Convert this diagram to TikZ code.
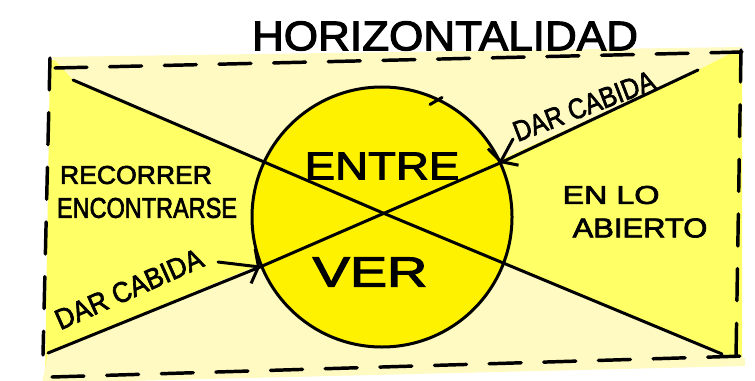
\documentclass[tikz,border=0pt]{standalone}
\usepackage{fontspec}
\setmainfont{Liberation Sans}
\newfontfamily\hand[FakeBold=2.5]{Liberation Sans}
\usetikzlibrary{arrows.meta}
\definecolor{bright}{HTML}{FFFF66}
\definecolor{pale}{HTML}{FFF9C2}
\definecolor{sun}{HTML}{FFF200}
\begin{document}
\begin{tikzpicture}[x=0.75pt,y=-0.75pt,
  ink/.style={line width=2.25pt, line cap=round, line join=round},
  border/.style={line width=2.6pt, line cap=round, dash pattern=on 24pt off 17pt},
  lbl/.style={inner sep=0pt, anchor=center, font=\hand},
  barb/.style={ink, -{Straight Barb[length=4pt,width=26pt,line width=2.25pt]}}]
\useasboundingbox (0,0) rectangle (755,381);
% corners and line ends
\coordinate (TL) at (50,60);
\coordinate (TR) at (742,50);
\coordinate (BR) at (742,357);
\coordinate (BL) at (45,378);
\coordinate (a1) at (73,80);
\coordinate (a2) at (722,354);
\coordinate (b1) at (48,353);
\coordinate (b2) at (698,70);
\coordinate (X) at (383,213);
\coordinate (p1) at (260,267);
\coordinate (p2) at (500,163);
\coordinate (q1) at (218,262);
\coordinate (q2) at (513,139);
% fills
\fill[bright] (TL) -- (TR) -- (BR) -- (BL) -- cycle;
\fill[pale] (52,57) -- (743,47) -- (b2) -- (X) -- (a1) -- cycle;
\fill[pale] (42,383) -- (b1) -- (X) -- (a2) -- (745,358) -- (745,366) -- cycle;
% circle
\node[circle, draw, line width=2.25pt, fill=sun, minimum size=195pt, inner sep=0pt] (circ) at (382,217) {};
\draw[ink] (circ.north) ++(48,19) coordinate (m1) -- ++(12,-7) coordinate (m2);
% crossing lines
\draw[ink] (a1) -- (X) -- (a2);
\draw[ink] (b1) -- (p1) -- (p2) -- (b2);
% arrows
\draw[barb] (q1) -- (p1);
\draw[barb] (q2) -- (p2);
% dashed border
\draw[border] (55,68) -- (742,52);
\draw[border] (50,58) -- (43,355);
\draw[border] (741,50) -- (736,357);
\draw[border] (52,377) -- (745,356);
% texts
\node[lbl] (title) at (445,36) {\resizebox{289.5pt}{21.75pt}{HORIZONTALIDAD}};
\node[lbl] (entre) at (382,166) {\resizebox{116pt}{20.25pt}{ENTRE}};
\node[lbl] (ver) at (370,272) {\resizebox{86pt}{21.75pt}{VER}};
\node[lbl] (rec) at (136,175) {\resizebox{114pt}{13.5pt}{RECORRER}};
\node[lbl] (enc) at (147,208) {\resizebox{135pt}{15pt}{ENCONTRARSE}};
\node[lbl] (enlo) at (611,195) {\resizebox{72.75pt}{13.5pt}{EN LO}};
\node[lbl] (abi) at (640,228) {\resizebox{101pt}{14.25pt}{ABIERTO}};
\node[lbl, rotate=24] (dc1) at (129,289) {\resizebox{119pt}{15pt}{DAR CABIDA}};
\node[lbl, rotate=21] (dc2) at (584,106) {\resizebox{112pt}{15pt}{DAR CABIDA}};
\end{tikzpicture}
\end{document}
